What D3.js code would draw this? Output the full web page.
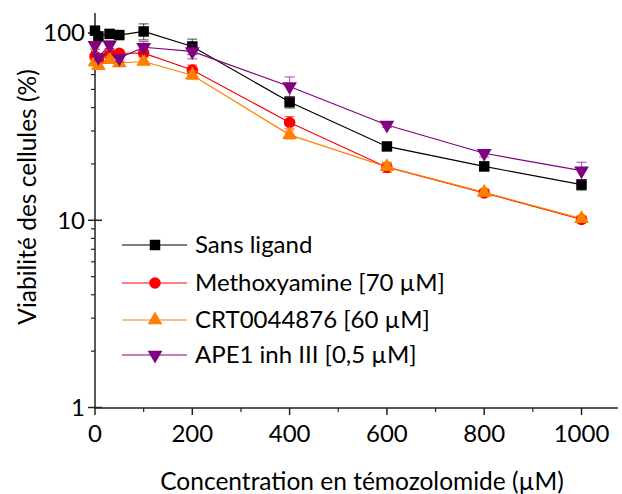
<!DOCTYPE html>
<html><head><meta charset="utf-8">
<script src="https://cdn.jsdelivr.net/npm/d3@7"></script>
<style>body{margin:0;background:#fff}svg{display:block}text{font-family:Lato,"Open Sans",sans-serif;fill:#000}</style>
</head><body>
<svg id="c" width="622" height="494"></svg>
<script>
const conc = [0, 7, 30, 50, 100, 200, 400, 600, 800, 1000];
const seriesNames = ["Sans ligand", "Methoxyamine [70 µM]", "CRT0044876 [60 µM]", "APE1 inh III [0,5 µM]"];
const seriesColors = ["#000000", "#ff0000", "#ff8000", "#800080"];
const seriesShapes = ["square", "circle", "triangle", "triangleDown"];
const sansLigand   = [103, 96, 99, 97.6, 102, 84.8, 42.8, 24.8, 19.4, 15.5];
const methoxy      = [75, 72, 76.6, 78, 78.2, 63.5, 33.3, 19.2, 14.0, 10.1];
const crt          = [70, 67, 72, 69.2, 70.5, 59.5, 28.6, 19.3, 14.1, 10.2];
const ape1         = [86, 74, 86.6, 73.5, 84, 79.8, 51.8, 32.3, 22.8, 18.4];
const sansErr      = [2, 3, 2, 2, 10, 8, 3, 1, 1, 1];
const methoxyErr   = [3, 3, 3, 3, 3, 4, 2.5, 1.2, 0.6, 0.4];
const crtErr       = [3, 3, 3, 3, 3, 3, 1.5, 0.8, 0.6, 0.4];
const ape1Err      = [4, 3, 4, 3, 6, 7, 6.5, 1, 1, 2];
const xTicks = [0, 200, 400, 600, 800, 1000];
const xMinor = [100, 300, 500, 700, 900];
const yTicks = [1, 10, 100];
const yMinor = [2,3,4,5,6,7,8,9,20,30,40,50,60,70,80,90];

const values = [sansLigand, methoxy, crt, ape1];
const errs = [sansErr, methoxyErr, crtErr, ape1Err];

const svg = d3.select("#c");
const x = d3.scaleLinear().domain([0, 1075]).range([95, 618]);
const y = d3.scaleLog().domain([1, 128]).range([407.5, 13]);
const FS = 24;

const axCol = "#222";
svg.append("line").attr("x1", 95).attr("x2", 95).attr("y1", 13).attr("y2", 408).attr("stroke", axCol).attr("stroke-width", 1.5);
svg.append("line").attr("x1", 94.25).attr("x2", 618).attr("y1", 408).attr("y2", 408).attr("stroke", axCol).attr("stroke-width", 1.5);

yTicks.forEach(t => {
  svg.append("line").attr("x1", 88).attr("x2", 102).attr("y1", y(t)).attr("y2", y(t)).attr("stroke", axCol).attr("stroke-width", 1.5);
  svg.append("text").attr("x", 85).attr("y", y(t)).attr("dy", "0.35em").attr("text-anchor", "end").attr("font-size", FS).text(t);
});
yMinor.forEach(t => {
  svg.append("line").attr("x1", 91).attr("x2", 95).attr("y1", y(t)).attr("y2", y(t)).attr("stroke", axCol).attr("stroke-width", 1.2);
});
xTicks.forEach(t => {
  svg.append("line").attr("x1", x(t)).attr("x2", x(t)).attr("y1", 408).attr("y2", 415).attr("stroke", axCol).attr("stroke-width", 1.5);
  svg.append("text").attr("x", x(t)).attr("y", 442).attr("text-anchor", "middle").attr("font-size", FS).text(t);
});
xMinor.forEach(t => {
  svg.append("line").attr("x1", x(t)).attr("x2", x(t)).attr("y1", 408).attr("y2", 412).attr("stroke", axCol).attr("stroke-width", 1.2);
});

svg.append("text").attr("x", 362).attr("y", 490).attr("text-anchor", "middle").attr("font-size", 24.5).text("Concentration en témozolomide (µM)");
svg.append("text").attr("transform", "translate(36,197) rotate(-90)").attr("text-anchor", "middle").attr("font-size", 24.5).text("Viabilité des cellules (%)");

function symbolFor(shape) {
  if (shape === "square") return d3.symbol().type(d3.symbolSquare).size(110);
  if (shape === "circle") return d3.symbol().type(d3.symbolCircle).size(105);
  return d3.symbol().type(d3.symbolTriangle).size(95);
}
function rot(shape) { return shape === "triangleDown" ? " rotate(180)" : ""; }

const line = d3.line().x((d, i) => x(conc[i])).y(d => y(d));
values.forEach((vals, s) => {
  svg.append("path").attr("d", line(vals)).attr("fill", "none").attr("stroke", seriesColors[s]).attr("stroke-width", 1.2);
});
values.forEach((vals, s) => {
  const g = svg.append("g");
  vals.forEach((v, i) => {
    const e = errs[s][i];
    const cx = x(conc[i]);
    const col = seriesColors[s];
    g.append("line").attr("x1", cx).attr("x2", cx).attr("y1", y(v + e)).attr("y2", y(Math.max(v - e, 1.01))).attr("stroke", col).attr("stroke-width", 1.2).attr("opacity", 0.6);
    g.append("line").attr("x1", cx - 5).attr("x2", cx + 5).attr("y1", y(v + e)).attr("y2", y(v + e)).attr("stroke", col).attr("stroke-width", 1.2).attr("opacity", 0.6);
    g.append("line").attr("x1", cx - 5).attr("x2", cx + 5).attr("y1", y(v - e)).attr("y2", y(v - e)).attr("stroke", col).attr("stroke-width", 1.2).attr("opacity", 0.6);
    g.append("path").attr("d", symbolFor(seriesShapes[s])()).attr("transform", `translate(${cx},${y(v)})${rot(seriesShapes[s])}`).attr("fill", col);
  });
});

const legY = [245, 283, 320, 355];
seriesNames.forEach((n, s) => {
  const ly = legY[s];
  svg.append("line").attr("x1", 122).attr("x2", 187).attr("y1", ly).attr("y2", ly).attr("stroke", seriesColors[s]).attr("stroke-width", 1.2);
  svg.append("path").attr("d", symbolFor(seriesShapes[s])()).attr("transform", `translate(155,${ly})${rot(seriesShapes[s])}`).attr("fill", seriesColors[s]);
  svg.append("text").attr("x", 195).attr("y", ly).attr("dy", "0.35em").attr("font-size", FS).text(n);
});
</script>
</body></html>
